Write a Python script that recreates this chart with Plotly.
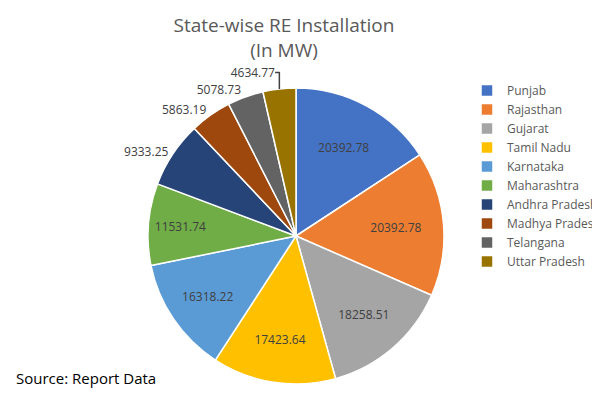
import plotly.graph_objects as go

states = ["Punjab", "Rajasthan", "Gujarat", "Tamil Nadu", "Karnataka", "Maharashtra",
          "Andhra Pradesh", "Madhya Pradesh", "Telangana", "Uttar Pradesh"]
capacity_mw = [20392.78, 20392.78, 18258.51, 17423.64, 16318.22, 11531.74,
               9333.25, 5863.19, 5078.73, 4634.77]
colors = ["#4472C4", "#ED7D31", "#A5A5A5", "#FFC000", "#5B9BD5", "#70AD47",
          "#264478", "#9E480E", "#636363", "#997300"]
positions = ["inside"] * 6 + ["outside"] * 4

fig = go.Figure(go.Pie(
    labels=states,
    values=capacity_mw,
    sort=False,
    direction="clockwise",
    rotation=0,
    marker=dict(colors=colors, line=dict(color="white", width=1.5)),
    texttemplate="%{value:.2f}",
    textposition=positions,
    insidetextorientation="horizontal",
    textfont=dict(family="Open Sans", size=12, color="#404040"),
    domain=dict(x=[0.22, 0.74], y=[0.06, 0.8]),
))

fig.update_layout(
    width=600, height=400,
    paper_bgcolor="white",
    margin=dict(l=0, r=0, t=0, b=0),
    title=dict(text="State-wise RE Installation<br>(In MW)", x=0.46, xanchor="center",
               y=0.94, yanchor="top", font=dict(family="Open Sans", size=19, color="#595959")),
    legend=dict(x=0.765, y=0.83, yanchor="top", font=dict(family="Open Sans", size=12, color="#595959"),
                tracegroupgap=0, itemwidth=30),
    annotations=[dict(text="Source: Report Data", x=0.01, y=0.045, xref="paper", yref="paper",
                      xanchor="left", yanchor="bottom", showarrow=False,
                      font=dict(family="Open Sans", size=15, color="black"))],
)

fig.write_html("out.html")
